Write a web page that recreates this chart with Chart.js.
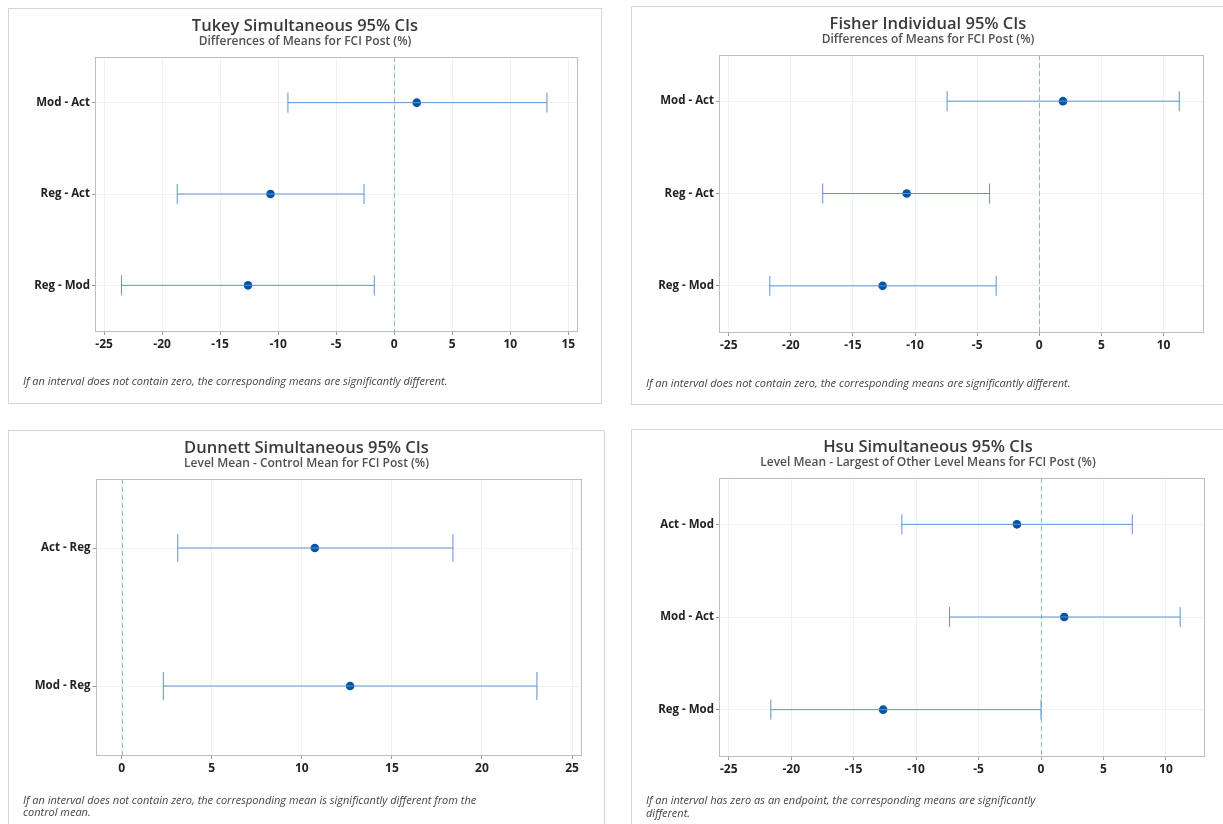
<!DOCTYPE html>
<html>
<head>
<meta charset="utf-8">
<script src="https://cdn.jsdelivr.net/npm/chart.js@4/dist/chart.umd.min.js"></script>
<style>
  html, body { margin: 0; padding: 0; background: #ffffff; }
  body { width: 1223px; height: 824px; position: relative; overflow: hidden; font-family: "Open Sans", "DejaVu Sans", sans-serif; }
  .frame { position: absolute; border: 1px solid #d6d6d6; box-sizing: border-box; background: #fff; }
  .frame canvas { position: absolute; left: 0; top: 0; }
  .title { position: absolute; left: 0; text-align: center; font-size: 16.5px; font-weight: 600; line-height: 20px; color: #3a3a3a; white-space: nowrap; }
  .subtitle { position: absolute; left: 0; text-align: center; font-size: 12px; font-weight: 600; line-height: 16px; color: #505050; white-space: nowrap; }
  .note { position: absolute; font-size: 11px; line-height: 12.5px; font-style: italic; color: #444; white-space: nowrap; }
</style>
</head>
<body>
<script>
// ---------- DATA ----------
const tukeyLabels = ['Mod - Act', 'Reg - Act', 'Reg - Mod'];
const tukeyMean   = [1.94, -10.66, -12.6];
const tukeyLower  = [-9.16, -18.7, -23.5];
const tukeyUpper  = [13.16, -2.6, -1.72];
const tukeyTicks  = [-25, -20, -15, -10, -5, 0, 5, 10, 15];

const fisherLabels = ['Mod - Act', 'Reg - Act', 'Reg - Mod'];
const fisherMean   = [1.91, -10.67, -12.61];
const fisherLower  = [-7.42, -17.43, -21.69];
const fisherUpper  = [11.27, -4.0, -3.47];
const fisherTicks  = [-25, -20, -15, -10, -5, 0, 5, 10];

const dunnettLabels = ['Act - Reg', 'Mod - Reg'];
const dunnettMean   = [10.72, 12.68];
const dunnettLower  = [3.11, 2.31];
const dunnettUpper  = [18.39, 23.05];
const dunnettTicks  = [0, 5, 10, 15, 20, 25];

const hsuLabels = ['Act - Mod', 'Mod - Act', 'Reg - Mod'];
const hsuMean   = [-1.93, 1.86, -12.64];
const hsuLower  = [-11.14, -7.32, -21.63];
const hsuUpper  = [7.31, 11.14, 0];
const hsuTicks  = [-25, -20, -15, -10, -5, 0, 5, 10];

// ---------- TEXT & LAYOUT ----------
const panels = [
  { title: 'Tukey Simultaneous 95% CIs', sub: 'Differences of Means for FCI Post (%)',
    note: 'If an interval does not contain zero, the corresponding means are significantly different.',
    labels: tukeyLabels, mean: tukeyMean, lower: tukeyLower, upper: tukeyUpper, ticks: tukeyTicks,
    xmin: -25.7, xmax: 15.75, capR: 10,
    frame: { l: 8, t: 8, w: 594, h: 396 }, plot: { l: 96, t: 57, r: 577, b: 331 },
    titleY: 25, subY: 40.7, noteX: 23, noteY: 381.5 },
  { title: 'Fisher Individual 95% CIs', sub: 'Differences of Means for FCI Post (%)',
    note: 'If an interval does not contain zero, the corresponding means are significantly different.',
    labels: fisherLabels, mean: fisherMean, lower: fisherLower, upper: fisherUpper, ticks: fisherTicks,
    xmin: -25.7, xmax: 13.18, capR: 10,
    frame: { l: 631, t: 6, w: 594, h: 399 }, plot: { l: 720, t: 55, r: 1203, b: 332 },
    titleY: 23, subY: 39, noteX: 646, noteY: 383 },
  { title: 'Dunnett Simultaneous 95% CIs', sub: 'Level Mean - Control Mean for FCI Post (%)',
    note: 'If an interval does not contain zero, the corresponding mean is significantly different from the<br>control mean.',
    labels: dunnettLabels, mean: dunnettMean, lower: dunnettLower, upper: dunnettUpper, ticks: dunnettTicks,
    xmin: -1.4, xmax: 25.47, capR: 14,
    frame: { l: 8, t: 430, w: 597, h: 400 }, plot: { l: 96.5, t: 479, r: 580.5, b: 755 },
    titleY: 446.5, subY: 462.5, noteX: 23, noteY: 800 },
  { title: 'Hsu Simultaneous 95% CIs', sub: 'Level Mean - Largest of Other Level Means for FCI Post (%)',
    note: 'If an interval has zero as an endpoint, the corresponding means are significantly<br>different.',
    labels: hsuLabels, mean: hsuMean, lower: hsuLower, upper: hsuUpper, ticks: hsuTicks,
    xmin: -25.7, xmax: 13.05, capR: 10,
    frame: { l: 631, t: 429, w: 594, h: 400 }, plot: { l: 720, t: 478, r: 1204, b: 756 },
    titleY: 446, subY: 462.3, noteX: 646, noteY: 800.5 }
];

const FONT = '"Open Sans", "DejaVu Sans", sans-serif';
const CI_COLOR = '#5f92d2';
const PT_COLOR = '#0054a6';

const refPlugin = {
  id: 'refAndBox',
  beforeDatasetsDraw(chart) {
    const { ctx, chartArea: a, scales } = chart;
    ctx.save();
    const x0 = Math.round(scales.x.getPixelForValue(0)) + 0.5;
    ctx.strokeStyle = '#86c995';
    ctx.lineWidth = 1;
    ctx.setLineDash([5, 3]);
    ctx.beginPath();
    ctx.moveTo(x0, a.top);
    ctx.lineTo(x0, a.bottom);
    ctx.stroke();
    ctx.restore();
  },
  afterDraw(chart) {
    const { ctx, chartArea: a } = chart;
    ctx.save();
    ctx.strokeStyle = '#bdbdbd';
    ctx.lineWidth = 1;
    ctx.strokeRect(Math.round(a.left) - 0.5, Math.round(a.top) + 0.5, Math.round(a.right - a.left) + 1, Math.round(a.bottom - a.top));
    ctx.restore();
  }
};

panels.forEach((p) => {
  const f = p.frame;
  const frame = document.createElement('div');
  frame.className = 'frame';
  frame.style.left = f.l + 'px';
  frame.style.top = f.t + 'px';
  frame.style.width = f.w + 'px';
  frame.style.height = f.h + 'px';
  document.body.appendChild(frame);

  const ox = f.l + 1, oy = f.t + 1;
  const cw = f.w - 2, ch = f.h - 2;

  const canvas = document.createElement('canvas');
  canvas.width = cw; canvas.height = ch;
  canvas.style.width = cw + 'px'; canvas.style.height = ch + 'px';
  frame.appendChild(canvas);

  const t = document.createElement('div');
  t.className = 'title';
  t.style.width = cw + 'px';
  t.style.top = (p.titleY - oy - 10) + 'px';
  t.textContent = p.title;
  frame.appendChild(t);

  const s = document.createElement('div');
  s.className = 'subtitle';
  s.style.width = cw + 'px';
  s.style.top = (p.subY - oy - 8) + 'px';
  s.textContent = p.sub;
  frame.appendChild(s);

  const n = document.createElement('div');
  n.className = 'note';
  n.style.left = (p.noteX - ox) + 'px';
  n.style.top = (p.noteY - oy - 6.5) + 'px';
  n.innerHTML = p.note;
  frame.appendChild(n);

  const yAxisW = p.plot.l - ox;
  const xAxisH = 30;
  const padTop = p.plot.t - oy;
  const padRight = cw - (p.plot.r - ox);
  const padBottom = ch - (p.plot.b - oy) - xAxisH;

  const datasets = [];
  p.labels.forEach((lab, i) => {
    datasets.push({
      type: 'line',
      data: [{ x: p.lower[i], y: lab }, { x: p.upper[i], y: lab }],
      borderColor: CI_COLOR,
      borderWidth: 1,
      showLine: true,
      fill: false,
      pointStyle: 'line',
      rotation: 90,
      pointRadius: p.capR,
      pointBorderColor: CI_COLOR,
      pointBorderWidth: 1,
      pointHoverRadius: p.capR
    });
  });
  datasets.push({
    type: 'scatter',
    data: p.labels.map((lab, i) => ({ x: p.mean[i], y: lab })),
    backgroundColor: PT_COLOR,
    borderColor: PT_COLOR,
    borderWidth: 0,
    pointRadius: 4.3,
    pointHoverRadius: 4.3
  });

  new Chart(canvas, {
    type: 'scatter',
    data: { labels: p.labels, datasets },
    options: {
      responsive: false,
      animation: false,
      events: [],
      layout: { padding: { top: padTop, right: padRight, bottom: padBottom, left: 0 } },
      plugins: { legend: { display: false }, tooltip: { enabled: false }, title: { display: false } },
      scales: {
        x: {
          type: 'linear',
          min: p.xmin, max: p.xmax,
          afterBuildTicks: sc => { sc.ticks = p.ticks.map(v => ({ value: v })); },
          afterFit: sc => { sc.height = xAxisH; },
          grid: { color: '#f1f1f1', tickColor: '#9a9a9a', tickLength: 4, drawTicks: true },
          border: { display: false },
          ticks: { color: '#222', padding: 2, maxRotation: 0, autoSkip: false,
                   font: { family: FONT, size: 12, weight: 'bold' } }
        },
        y: {
          type: 'category',
          labels: p.labels,
          offset: true,
          afterFit: sc => { sc.width = yAxisW; },
          grid: { offset: false, color: '#f1f1f1', tickColor: '#9a9a9a', tickLength: 4, drawTicks: true },
          border: { display: false },
          ticks: { color: '#222', padding: 2, font: { family: FONT, size: 11.5, weight: 'bold' } }
        }
      }
    },
    plugins: [refPlugin]
  });
});
</script>
</body>
</html>
